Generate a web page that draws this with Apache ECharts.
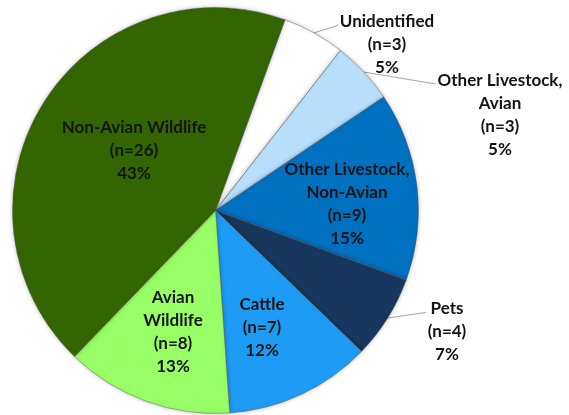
<!DOCTYPE html>
<html>
<head>
<meta charset="utf-8">
<script src="https://cdn.jsdelivr.net/npm/echarts@6/dist/echarts.min.js"></script>
<style>
  html, body { margin: 0; padding: 0; background: #ffffff; }
  #chart { width: 569px; height: 415px; }
</style>
</head>
<body>
<div id="chart"></div>
<script>
// Sources, listed clockwise from the Unidentified slice
const categories = [
  'Unidentified',
  'Other Livestock,\nAvian',
  'Other Livestock,\nNon-Avian',
  'Pets',
  'Cattle',
  'Avian\nWildlife',
  'Non-Avian Wildlife'
];
const counts = [3, 3, 9, 4, 7, 8, 26];
const sliceColors = ['#ffffff', '#b8dffb', '#0070c0', '#17375e', '#1e9cf5', '#99ff66', '#336600'];

// Which labels sit outside the pie with a leader line
const outsideLabel = [true, true, false, true, false, false, false];

// Label block centres (px) for each slice label
const labelSpots = [
  [387, 45], [500, 115], [347, 204], [447, 332],
  [262, 328], [173, 332], [134, 151]
];

const LINE_H = 23;

const chart = echarts.init(document.getElementById('chart'), null, { renderer: 'canvas' });

const data = categories.map((name, i) => ({
  name: name,
  value: counts[i],
  itemStyle: { color: sliceColors[i] },
  label: { position: outsideLabel[i] ? 'outside' : 'inside' },
  labelLine: { show: outsideLabel[i] }
}));

chart.setOption({
  animation: false,
  backgroundColor: '#ffffff',
  series: [{
    type: 'pie',
    center: [215.5, 210.5],
    radius: [0, 203],
    startAngle: 70,
    clockwise: true,
    percentPrecision: 0,
    avoidLabelOverlap: false,
    itemStyle: {
      borderColor: 'rgba(90,90,90,0.45)',
      borderWidth: 1,
      shadowBlur: 4,
      shadowColor: 'rgba(0,0,0,0.25)'
    },
    label: {
      formatter: '{b}\n(n={c})\n{d}%',
      fontFamily: 'Lato',
      fontWeight: 'bold',
      fontSize: 17,
      lineHeight: LINE_H,
      color: '#141414',
      align: 'center'
    },
    labelLine: {
      length: 10,
      length2: 10,
      lineStyle: { color: '#a6a6a6', width: 1 }
    },
    labelLayout: function (params) {
      const p = labelSpots[params.dataIndex];
      const w = params.labelRect.width;
      const h = params.labelRect.height;
      const out = { x: p[0], y: p[1], align: 'center', verticalAlign: 'middle' };
      if (outsideLabel[params.dataIndex] && params.labelLinePoints) {
        // leader runs from the slice edge to the left end of the first text line
        const start = params.labelLinePoints[0];
        out.labelLinePoints = [
          [start[0], start[1]],
          [p[0] - w / 2 - 2, p[1] - h / 2 + LINE_H * 0.65]
        ];
      }
      return out;
    },
    data: data
  }]
});
</script>
</body>
</html>
